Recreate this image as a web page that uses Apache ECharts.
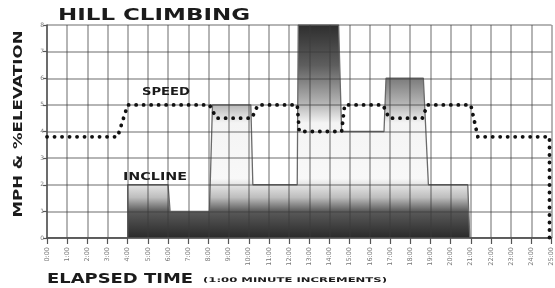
<!DOCTYPE html>
<html>
<head>
<meta charset="utf-8">
<script src="https://cdn.jsdelivr.net/npm/echarts@6/dist/echarts.min.js"></script>
<style>
html, body { margin: 0; padding: 0; background: #fff; }
#main { width: 555px; height: 288px; }
</style>
</head>
<body>
<div id="main"></div>
<script>
// elapsed time labels (minutes)
var timeLabels = ['0:00', '1:00', '2:00', '3:00', '4:00', '5:00', '6:00', '7:00', '8:00', '9:00',
    '10:00', '11:00', '12:00', '13:00', '14:00', '15:00', '16:00', '17:00', '18:00', '19:00',
    '20:00', '21:00', '22:00', '23:00', '24:00', '25:00'];
var yTicks = [0, 1, 2, 3, 4, 5, 6, 7, 8];

// [minute, % elevation]
var incline = [[0, 0], [4, 0], [4, 2], [6, 2], [6.1, 1], [8.05, 1], [8.2, 5], [10.1, 5], [10.2, 2],
    [12.4, 2], [12.45, 8], [14.45, 8], [14.6, 4], [16.7, 4], [16.8, 6], [18.65, 6], [18.9, 2],
    [20.85, 2], [20.95, 0], [25, 0]];
// [minute, mph]
var speed = [[0, 3.8], [3.5, 3.8], [4, 5], [8.05, 5], [8.4, 4.5], [10.15, 4.5], [10.45, 5],
    [12.4, 5], [12.5, 4], [14.6, 4], [14.75, 5], [16.65, 5], [16.95, 4.5], [18.6, 4.5],
    [18.85, 5], [21, 5], [21.35, 3.8], [24.9, 3.8], [24.9, 0]];

var FONT = '"DejaVu Sans", sans-serif';
var measureCtx = document.createElement('canvas').getContext('2d');
// stretch factor so a bold caption spans the width used in the print
function stretch(txt, size, width) {
    measureCtx.font = 'bold ' + size + 'px ' + FONT;
    return width / measureCtx.measureText(txt).width;
}
function caption(txt, x, y, size, width, extra) {
    var el = {
        type: 'text',
        x: x,
        y: y,
        scaleX: stretch(txt, size, width),
        z: 10,
        style: {
            text: txt,
            fontSize: size,
            fontWeight: 'bold',
            fontFamily: FONT,
            fill: '#1b1b1b',
            textAlign: 'left',
            textVerticalAlign: 'middle'
        }
    };
    if (extra) {
        for (var k in extra) el[k] = extra[k];
    }
    return el;
}

var myChart = echarts.init(document.getElementById('main'));
var option = {
    backgroundColor: '#fff',
    animation: false,
    grid: { left: 47, right: 3, top: 25, bottom: 50 },
    xAxis: {
        type: 'value',
        min: 0,
        max: 25,
        interval: 1,
        z: 3,
        axisLine: { lineStyle: { color: '#555', width: 1.5 } },
        axisTick: { length: 6, lineStyle: { color: '#555', width: 1.2 } },
        axisLabel: {
            rotate: 90,
            margin: 9,
            fontSize: 6.5,
            color: '#777',
            fontFamily: FONT,
            showMinLabel: true,
            showMaxLabel: true,
            formatter: function (v) { return timeLabels[Math.round(v)]; }
        },
        splitLine: { show: true, lineStyle: { color: 'rgba(60,60,60,0.5)', width: 1.5 } }
    },
    yAxis: {
        type: 'value',
        min: yTicks[0],
        max: yTicks[yTicks.length - 1],
        interval: 1,
        z: 3,
        axisLine: { show: true, lineStyle: { color: '#555', width: 1.5 } },
        axisTick: { show: true, length: 4, lineStyle: { color: '#555', width: 1.2 } },
        axisLabel: { fontSize: 6, color: '#777', margin: 3, fontFamily: FONT },
        splitLine: { show: true, lineStyle: { color: 'rgba(60,60,60,0.5)', width: 1.5 } }
    },
    series: [
        {
            name: 'Incline',
            type: 'line',
            data: incline,
            showSymbol: false,
            z: 2,
            lineStyle: { color: '#6a6a6a', width: 1.3 },
            areaStyle: {
                opacity: 1,
                color: new echarts.graphic.LinearGradient(0, 0, 0, 1, [
                    { offset: 0, color: '#2e2e2e' },
                    { offset: 0.19, color: '#5e5e5e' },
                    { offset: 0.375, color: '#b8b8b8' },
                    { offset: 0.46, color: '#f4f4f4' },
                    { offset: 0.72, color: '#f8f8f8' },
                    { offset: 0.81, color: '#bdbdbd' },
                    { offset: 0.875, color: '#5a5a5a' },
                    { offset: 1, color: '#2a2a2a' }
                ])
            }
        },
        {
            name: 'Speed',
            type: 'line',
            data: speed,
            showSymbol: false,
            z: 5,
            lineStyle: { color: '#111', width: 3.8, type: [0.1, 7.4], cap: 'round', join: 'round' }
        }
    ],
    graphic: [
        caption('HILL CLIMBING', 58, 16, 15, 192),
        caption('ELAPSED TIME', 47, 279, 14, 146),
        caption('(1:00 MINUTE INCREMENTS)', 203, 280, 6.5, 184),
        caption('SPEED', 142, 92, 11, 48),
        caption('INCLINE', 123, 177, 11, 64),
        {
            type: 'text',
            x: 19,
            y: 124,
            rotation: Math.PI / 2,
            scaleX: stretch('MPH & %ELEVATION', 13, 187),
            z: 10,
            style: {
                text: 'MPH & %ELEVATION',
                fontSize: 13,
                fontWeight: 'bold',
                fontFamily: FONT,
                fill: '#1b1b1b',
                textAlign: 'center',
                textVerticalAlign: 'middle'
            }
        }
    ]
};
myChart.setOption(option);
</script>
</body>
</html>
